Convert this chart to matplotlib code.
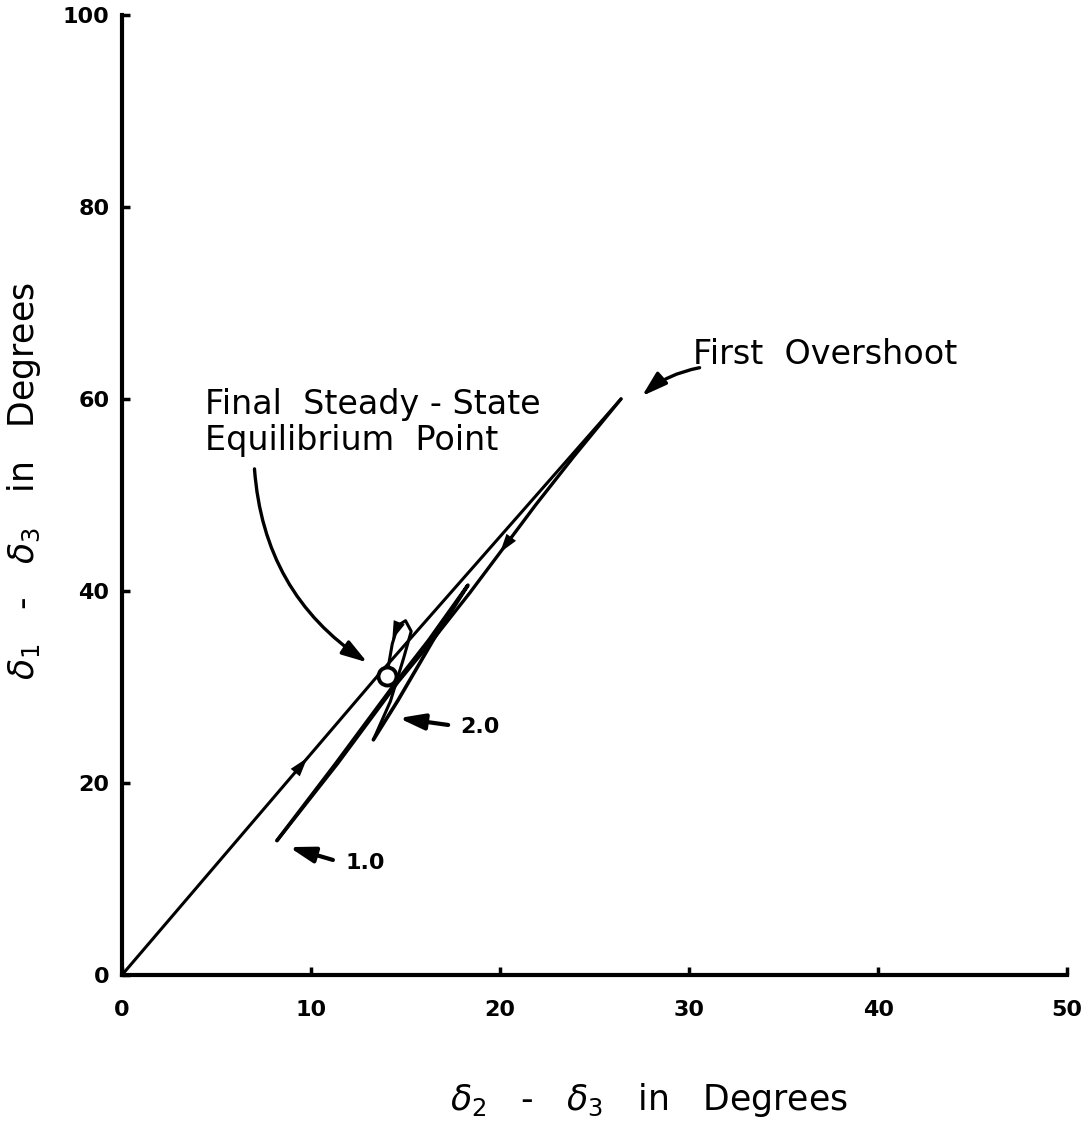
import numpy as np
import matplotlib.pyplot as plt

# trajectory of the swing (delta2 - delta3, delta1 - delta3) in degrees
rise_x = [0.0, 13.5, 26.4]
rise_y = [0.0, 31.1, 60.0]

# back from first overshoot, down to the 1.0 point
back_x = [26.4, 23.9, 21.9, 20.0, 18.4, 16.4, 14.6, 11.4, 8.2]
back_y = [60.0, 54.0, 49.0, 44.0, 39.8, 34.8, 30.5, 22.0, 14.0]

# second swing up, then down to the 2.0 point
swing_x = [8.2, 11.3, 14.5, 16.2, 18.3, 16.5, 14.6, 13.3]
swing_y = [14.0, 22.0, 30.5, 34.8, 40.6, 35.0, 28.6, 24.5]

# last small loop settling into equilibrium
loop_x = [13.3, 14.2, 14.9, 15.3, 15.0, 14.6, 14.3, 14.0]
loop_y = [24.5, 28.5, 33.0, 35.8, 36.9, 36.4, 34.5, 31.1]

eq_x, eq_y = 14.0, 31.1
overshoot_x, overshoot_y = 26.4, 60.0

x_ticks = [0, 10, 20, 30, 40, 50]
y_ticks = [0, 20, 40, 60, 80, 100]

fig = plt.figure(figsize=(10.84, 11.43), dpi=100)
ax = fig.add_axes([0.1125, 0.147, 0.872, 0.84])

ax.plot(rise_x, rise_y, color='k', lw=2.2, solid_capstyle='round')
ax.plot(back_x, back_y, color='k', lw=2.4, solid_capstyle='round', solid_joinstyle='round')
ax.plot(swing_x, swing_y, color='k', lw=2.6, solid_capstyle='round', solid_joinstyle='round')
ax.plot(loop_x, loop_y, color='k', lw=2.2, solid_capstyle='round', solid_joinstyle='round')

# direction arrows along the path
def mid_arrow(x0, y0, x1, y1):
    ax.annotate('', xy=(x1, y1), xytext=(x0, y0),
                arrowprops=dict(arrowstyle='-|>,head_length=0.8,head_width=0.25',
                                mutation_scale=17, color='k', lw=0,
                                shrinkA=0, shrinkB=0))

mid_arrow(9.3, 21.4, 9.8, 22.6)
mid_arrow(20.6, 45.6, 20.0, 44.0)
mid_arrow(14.5, 35.9, 14.3, 34.9)

# equilibrium point
ax.plot([eq_x], [eq_y], marker='o', ms=13, mfc='white', mec='k', mew=2.8, zorder=5)

# annotations
hand = dict(fontsize=24, color='k')
head = '-|>,head_length=0.9,head_width=0.28'
ax.text(30.2, 64.6, 'First  Overshoot', va='center', **hand)
ax.annotate('', xy=(overshoot_x + 1.0, overshoot_y + 0.1), xytext=(30.7, 63.3),
            arrowprops=dict(arrowstyle=head, mutation_scale=17, color='k', lw=2.4,
                            connectionstyle='arc3,rad=0.15'))

ax.text(4.4, 59.4, 'Final  Steady - State', va='center', **hand)
ax.text(4.4, 55.7, 'Equilibrium  Point', va='center', **hand)
ax.annotate('', xy=(13.1, 32.4), xytext=(7.0, 53.0),
            arrowprops=dict(arrowstyle=head, mutation_scale=17, color='k', lw=2.4,
                            connectionstyle='arc3,rad=0.25'))

ax.text(17.9, 25.8, '2.0', va='center', fontsize=16, fontweight='bold')
ax.annotate('', xy=(14.5, 26.8), xytext=(17.4, 26.0),
            arrowprops=dict(arrowstyle=head, mutation_scale=17, color='k', lw=3))

ax.text(11.8, 11.7, '1.0', va='center', fontsize=16, fontweight='bold')
ax.annotate('', xy=(8.7, 13.4), xytext=(11.3, 11.9),
            arrowprops=dict(arrowstyle=head, mutation_scale=17, color='k', lw=3))

ax.set_xlim(0, 50)
ax.set_ylim(0, 100)
ax.set_xticks(x_ticks)
ax.set_yticks(y_ticks)
ax.tick_params(direction='in', length=6, width=2.5, labelsize=16)
ax.tick_params(axis='x', pad=18)
ax.tick_params(axis='y', pad=9)
for lab in ax.get_xticklabels() + ax.get_yticklabels():
    lab.set_fontweight('bold')

ax.spines['top'].set_visible(False)
ax.spines['right'].set_visible(False)
ax.spines['left'].set_linewidth(3)
ax.spines['bottom'].set_linewidth(3)

ax.set_xlabel(r'$\delta_2$   -   $\delta_3$   in   Degrees', fontsize=25)
ax.set_ylabel(r'$\delta_1$   -   $\delta_3$   in   Degrees', fontsize=25)
ax.xaxis.set_label_coords(0.558, -0.11)
ax.yaxis.set_label_coords(-0.083, 0.514)

plt.savefig('out.png', dpi=100)
